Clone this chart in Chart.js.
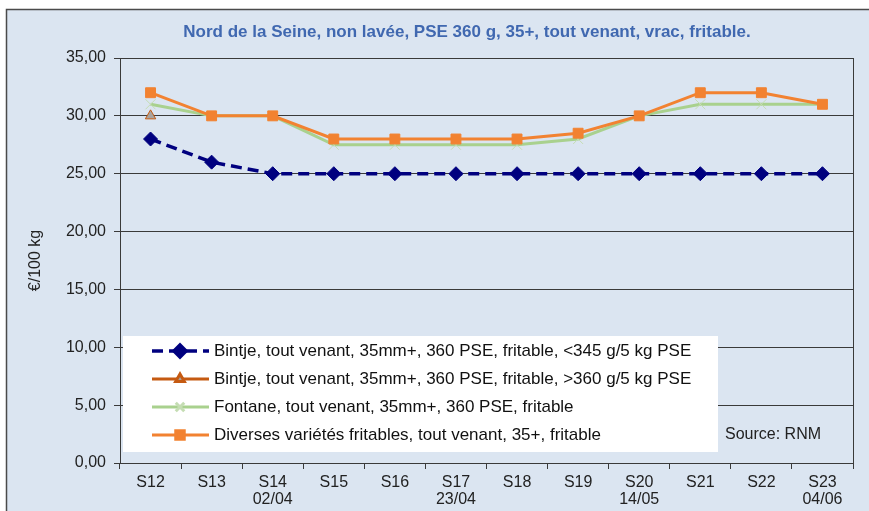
<!DOCTYPE html>
<html>
<head>
<meta charset="utf-8">
<script src="https://cdn.jsdelivr.net/npm/chart.js@4/dist/chart.umd.min.js"></script>
<style>
  body { margin: 0; background: #fff; }
  #wrap { width: 869px; height: 511px; }
</style>
</head>
<body>
<div id="wrap"><canvas id="potato-chart" width="869" height="511"></canvas></div>
<script>
// weeks on the x axis (second line = date where the original shows one)
const weeks = [['S12'], ['S13'], ['S14', '02/04'], ['S15'], ['S16'], ['S17', '23/04'],
               ['S18'], ['S19'], ['S20', '14/05'], ['S21'], ['S22'], ['S23', '04/06']];

// prices in €/100 kg
const bintjeSmall = [28, 26, 25, 25, 25, 25, 25, 25, 25, 25, 25, 25];
const bintjeLarge = [30, null, null, null, null, null, null, null, null, null, null, null];
const fontane = [31, 30, 30, 27.5, 27.5, 27.5, 27.5, 28, 30, 31, 31, 31];
const diverses = [32, 30, 30, 28, 28, 28, 28, 28.5, 30, 32, 32, 31];

const seriesNames = [
    'Bintje, tout venant, 35mm+, 360 PSE, fritable, <345 g/5 kg PSE',
    'Bintje, tout venant, 35mm+, 360 PSE, fritable, >360 g/5 kg PSE',
    'Fontane, tout venant, 35mm+, 360 PSE, fritable',
    'Diverses variétés fritables, tout venant, 35+, fritable'
];
const yTicks = [0, 5, 10, 15, 20, 25, 30, 35];

const chartTitle = 'Nord de la Seine, non lavée, PSE 360 g, 35+, tout venant, vrac, fritable.';
const sourceText = 'Source: RNM';
const fontFamily = '"Liberation Sans", Arial, sans-serif';

// panel background, title and border around the plot area
const backgroundPlugin = {
    id: 'panelBackground',
    beforeDraw(chart) {
        const ctx = chart.ctx;
        ctx.save();
        ctx.fillStyle = '#ffffff';
        ctx.fillRect(0, 0, chart.width, chart.height);
        ctx.fillStyle = '#dbe5f1';
        ctx.fillRect(6, 9, chart.width, chart.height);
        ctx.strokeStyle = '#4a4a4a';
        ctx.lineWidth = 1.5;
        ctx.strokeRect(6.5, 9.5, chart.width + 10, chart.height + 10);
        // title is placed a bit right of centre, like the original
        ctx.font = 'bold 17px ' + fontFamily;
        ctx.fillStyle = '#4068b0';
        ctx.textAlign = 'center';
        ctx.textBaseline = 'middle';
        ctx.fillText(chartTitle, 467, 32);
        ctx.restore();
    },
    beforeDatasetsDraw(chart) {
        const a = chart.chartArea;
        const ctx = chart.ctx;
        ctx.save();
        ctx.strokeStyle = '#3a3a3a';
        ctx.lineWidth = 1;
        ctx.beginPath();
        ctx.moveTo(Math.round(a.right) + 0.5, a.top);
        ctx.lineTo(Math.round(a.right) + 0.5, a.bottom);
        ctx.stroke();
        ctx.restore();
    }
};

// legend box drawn inside the plot like the original
const legendPlugin = {
    id: 'insideLegend',
    afterDatasetsDraw(chart) {
        const ctx = chart.ctx;
        const boxX = 123, boxY = 336, boxW = 595, boxH = 116;
        ctx.save();
        ctx.fillStyle = '#ffffff';
        ctx.fillRect(boxX, boxY, boxW, boxH);
        ctx.textBaseline = 'middle';
        chart.data.datasets.forEach((ds, i) => {
            const y = boxY + 15 + i * 28;
            ctx.save();
            ctx.strokeStyle = ds.borderColor;
            ctx.lineWidth = ds.borderWidth;
            ctx.setLineDash(ds.borderDash || []);
            ctx.beginPath();
            ctx.moveTo(152, y);
            ctx.lineTo(209, y);
            ctx.stroke();
            ctx.setLineDash([]);
            ctx.fillStyle = ds.pointBackgroundColor;
            ctx.strokeStyle = ds.pointBorderColor;
            Chart.helpers.drawPoint(ctx, {
                pointStyle: ds.pointStyle,
                radius: ds.pointRadius - 1,
                rotation: 0,
                borderWidth: ds.pointBorderWidth
            }, 180, y);
            ctx.restore();
            ctx.font = '17px ' + fontFamily;
            ctx.fillStyle = '#111';
            ctx.fillText(seriesNames[i], 214, y);
        });
        ctx.font = '16px ' + fontFamily;
        ctx.fillStyle = '#222';
        ctx.fillText(sourceText, 725, boxY + 15 + 3 * 28);
        ctx.restore();
    }
};

const ctx = document.getElementById('potato-chart').getContext('2d');
const chart = new Chart(ctx, {
    type: 'line',
    data: {
        labels: weeks,
        datasets: [{
            label: seriesNames[0],
            data: bintjeSmall,
            borderColor: '#00007f',
            borderWidth: 3.5,
            borderDash: [11, 6],
            pointStyle: 'rectRot',
            pointRadius: 7,
            pointBackgroundColor: '#00007f',
            pointBorderColor: '#00007f',
            pointBorderWidth: 1,
            order: 0
        }, {
            label: seriesNames[1],
            data: bintjeLarge,
            borderColor: '#c55a11',
            borderWidth: 3,
            pointStyle: 'triangle',
            pointRadius: 6,
            pointBackgroundColor: '#a9a39e',
            pointBorderColor: '#c55a11',
            pointBorderWidth: 1,
            order: 1
        }, {
            label: seriesNames[2],
            data: fontane,
            borderColor: '#a9d18e',
            borderWidth: 3,
            pointStyle: 'crossRot',
            pointRadius: 7,
            pointBackgroundColor: '#c5ddb3',
            pointBorderColor: '#c5ddb3',
            pointBorderWidth: 1,
            order: 3
        }, {
            label: seriesNames[3],
            data: diverses,
            borderColor: '#f28231',
            borderWidth: 3,
            pointStyle: 'rect',
            pointRadius: 7,
            pointBackgroundColor: '#f28231',
            pointBorderColor: '#f28231',
            pointBorderWidth: 1,
            order: 2
        }]
    },
    options: {
        responsive: false,
        animation: false,
        layout: { padding: { top: 58, right: 16, bottom: 0, left: 26 } },
        plugins: {
            legend: { display: false },
            tooltip: { enabled: false },
            title: { display: false }
        },
        scales: {
            x: {
                offset: true,
                grid: { display: true, drawOnChartArea: false, offset: true, color: '#3a3a3a', tickLength: 6 },
                border: { color: '#3a3a3a' },
                ticks: {
                    color: '#222',
                    font: { family: fontFamily, size: 16, lineHeight: 1.05 },
                    padding: 5,
                    maxRotation: 0,
                    autoSkip: false
                },
                afterFit(scale) { scale.height = 48; }
            },
            y: {
                min: 0,
                max: 35,
                afterBuildTicks(scale) { scale.ticks = yTicks.map(v => ({ value: v })); },
                grid: { color: '#3a3a3a', tickLength: 6 },
                border: { color: '#3a3a3a' },
                ticks: {
                    color: '#222',
                    font: { family: fontFamily, size: 16 },
                    padding: 8,
                    callback: v => v.toFixed(2).replace('.', ',')
                },
                title: {
                    display: true,
                    text: '€/100 kg',
                    color: '#222',
                    font: { family: fontFamily, size: 16 },
                    padding: { top: 0, bottom: 0 }
                },
                afterFit(scale) { scale.width = 94; }
            }
        }
    },
    plugins: [backgroundPlugin, legendPlugin]
});
</script>
</body>
</html>
